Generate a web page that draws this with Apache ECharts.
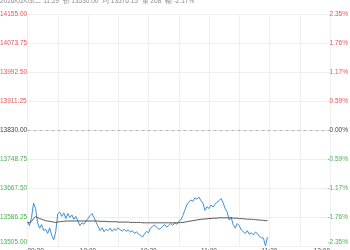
<!DOCTYPE html>
<html><head><meta charset="utf-8">
<script src="https://cdn.jsdelivr.net/npm/echarts@6/dist/echarts.min.js"></script>
<style>html,body{margin:0;padding:0;background:#fff}#c{width:350px;height:250px}</style>
</head><body><div id="c"></div>
<script>
var headerText = '2026/02/03/二 11:29  价 13530.00  均 13576.15  量 208  幅 -2.17%';
var priceLabels = ['13505.00','13586.25','13667.50','13748.75','13830.00','13911.25','13992.50','14073.75','14155.00'];
var pctLabels = ['-2.35%','-1.76%','-1.17%','-0.59%','0.00%','0.59%','1.17%','1.76%','2.35%'];
var timeTicks = ['09:30','10:00','10:30','11:00','11:30','12:00'];
var preClose = 13830;
var priceMin = 13505, priceMax = 14155;
var price = [
13572,13562,13585,13625,13610,13570,13555,13565,13548,13552,
13540,13556,13535,13522,13545,13595,13600,13588,13598,13582,
13596,13585,13592,13580,13588,13575,13562,13570,13566,13575,
13582,13590,13596,13585,13572,13560,13548,13556,13545,13552,
13548,13555,13546,13553,13549,13556,13550,13547,13552,13546,
13550,13544,13548,13540,13545,13538,13535,13530,13538,13546,
13542,13555,13560,13564,13558,13552,13554,13560,13565,13558,
13562,13568,13563,13570,13566,13574,13578,13590,13605,13620,
13628,13634,13630,13640,13636,13642,13632,13625,13605,13615,
13610,13620,13614,13622,13628,13632,13638,13626,13610,13600,
13578,13585,13565,13555,13568,13562,13550,13545,13540,13548,
13538,13542,13536,13544,13540,13532,13528,13527,13505,13530
];
var avgPrice = [
13572,13570,13574,13582,13587,13585,13582,13580,13578,13576,
13575,13574,13573,13572,13571,13572,13573,13574,13574,13575,
13575,13575,13575,13575,13575,13575,13575,13575,13575,13575,
13575,13575,13575,13575,13575,13575,13574,13574,13574,13574,
13573,13573,13573,13573,13573,13572,13572,13572,13572,13572,
13572,13571,13571,13571,13571,13571,13571,13570,13570,13570,
13570,13570,13570,13570,13570,13570,13570,13570,13570,13570,
13570,13570,13570,13570,13570,13570,13571,13571,13572,13573,
13574,13575,13576,13577,13578,13579,13580,13580,13581,13581,
13582,13582,13583,13583,13583,13584,13584,13584,13584,13584,
13584,13584,13583,13583,13583,13582,13582,13581,13581,13580,
13580,13580,13579,13579,13578,13578,13577,13577,13576,13576
];
var FONT = '"Liberation Sans", Arial, sans-serif';
var RED = '#e65353', GREEN = '#4caf50', MID = '#444';
function pairs(arr){ return arr.map(function(v,i){ return [i, v]; }); }
var chart = echarts.init(document.getElementById('c'), null, {renderer:'canvas'});
chart.setOption({
  animation:false,
  backgroundColor:'#fff',
  graphic:[{type:'text', left:0, top:-2, style:{text:headerText, fill:'#8a8a8a', font:'6.5px ' + FONT}}],
  grid:{left:27.5, right:20, top:14, bottom:4, containLabel:false, outerBoundsMode:'none'},
  xAxis:{type:'value', min:0, max:150, interval:15,
    axisLine:{show:false}, axisTick:{show:false},
    splitLine:{show:true, lineStyle:{color:'#efefef', width:1}},
    axisLabel:{fontSize:6.5, fontFamily:FONT, color:'#555', margin:2,
      alignMinLabel:'left', alignMaxLabel:'right',
      formatter:function(v){ return (v % 30 === 0) ? timeTicks[v/30] : ''; }}
  },
  yAxis:[
    {type:'value', min:priceMin, max:priceMax, show:false, splitLine:{show:false}},
    {type:'value', position:'left', min:0, max:8, interval:1,
      axisLine:{show:false}, axisTick:{show:false},
      splitLine:{show:true, lineStyle:{color:'#efefef', width:1}},
      axisLabel:{inside:false, align:'left', margin:27.5, fontSize:6.5, fontFamily:FONT,
        verticalAlignMinLabel:'bottom',
        formatter:function(v){ return priceLabels[v]; },
        color:function(v){ v = Number(v); return v > 4 ? RED : (v < 4 ? GREEN : MID); }}
    },
    {type:'value', position:'right', min:0, max:8, interval:1,
      axisLine:{show:false}, axisTick:{show:false}, splitLine:{show:false},
      axisLabel:{align:'right', margin:18, fontSize:6.5, fontFamily:FONT,
        verticalAlignMinLabel:'bottom',
        formatter:function(v){ return pctLabels[v]; },
        color:function(v){ v = Number(v); return v > 4 ? RED : (v < 4 ? GREEN : MID); }}
    }
  ],
  series:[
    {type:'line', yAxisIndex:0, data:pairs(price), showSymbol:false, symbol:'none',
      lineStyle:{color:'#3f8fcf', width:1}, z:3,
      markLine:{silent:true, symbol:'none', label:{show:false},
        lineStyle:{color:'#b5b5b5', type:[3,3], width:1},
        data:[{yAxis:preClose}]}
    },
    {type:'line', yAxisIndex:0, data:pairs(avgPrice), showSymbol:false, symbol:'none',
      lineStyle:{color:'#555', width:1}, z:4}
  ]
});
</script></body></html>
